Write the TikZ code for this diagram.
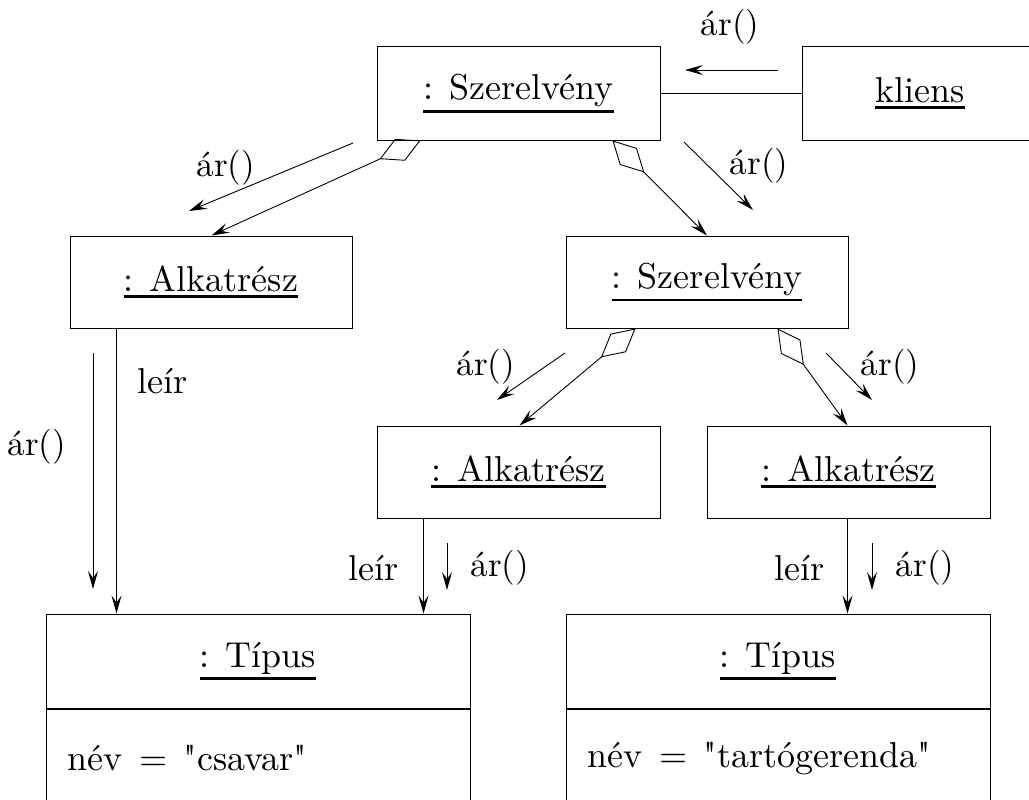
\documentclass[tikz,border=0pt]{standalone}
\usepackage{fontspec}
\setmainfont{lmroman10-regular.otf}[Ligatures=TeXOff]
\usepackage{graphicx}
\usetikzlibrary{arrows.meta,calc}
% box titles and labels are 10pt text, enlarged as a whole (rules included)
\newcommand\bigtxt[1]{\scalebox{3.6}{#1}}
\newcommand\labtxt[1]{\scalebox{3.5}{#1}}
% object names: underlined with a heavier rule
\newcommand\objname[1]{\vtop{\hbox{#1}\kern0.9pt\hrule height 0.75pt}}
\begin{document}
\begin{tikzpicture}[x=1pt,y=-1pt,
  every node/.style={font=\fontsize{10}{12}\selectfont},
  obj/.style={draw, rectangle, inner sep=0pt, line width=1pt},
  lbl/.style={inner sep=0pt},
  conn/.style={line width=0.9pt},
  tipshape/.tip={Stealth[length=18pt,width=10pt,inset=7pt]},
  msg/.style={conn, -tipshape},
  comp/.style={conn, {Diamond[open,length=45pt,width=24pt]}-tipshape},
  link/.style={conn, -tipshape}]
\useasboundingbox (0,0) rectangle (1029,800);
\clip (0,0) rectangle (1029,800);

% objects
\node[obj, minimum width=283pt, minimum height=93pt] (A) at (518.5,93.5) {\bigtxt{\objname{: Szerelvény}}};
\node[obj, minimum width=236pt, minimum height=93pt] (K) at (920,93.5) {\bigtxt{\objname{kliens}}};
\node[obj, minimum width=282pt, minimum height=92pt] (B) at (211,282) {\bigtxt{\objname{: Alkatrész}}};
\node[obj, minimum width=282pt, minimum height=92pt] (C) at (707,282) {\bigtxt{\objname{: Szerelvény}}};
\node[obj, minimum width=283pt, minimum height=92pt] (D) at (518.5,472) {\bigtxt{\objname{: Alkatrész}}};
\node[obj, minimum width=283pt, minimum height=92pt] (E) at (848.5,472) {\bigtxt{\objname{: Alkatrész}}};
\node[obj, minimum width=424pt, minimum height=94pt] (Ft) at (258,661) {\bigtxt{\objname{: Típus}}};
\node[obj, minimum width=424pt, minimum height=142pt, anchor=north] (Fb) at (Ft.south) {};
\node[lbl, anchor=west] (Fa) at ($(Fb.north west)+(22,50)$) {\bigtxt{név\hspace{1.8pt}${}={}$\hspace{1.8pt}"csavar"}};
\node[obj, minimum width=424pt, minimum height=94pt] (Gt) at (778,661) {\bigtxt{\objname{: Típus}}};
\node[obj, minimum width=424pt, minimum height=142pt, anchor=north] (Gb) at (Gt.south) {};
\node[lbl, anchor=west] (Ga) at ($(Gb.north west)+(22,50)$) {\bigtxt{név\hspace{1.8pt}${}={}$\hspace{1.8pt}"tartógerenda"}};

% links
\draw[conn] (A.east) -- (K.west);
\draw[comp] ([xshift=44pt]A.south west) -- ([xshift=142pt]B.north west);
\draw[comp] ([xshift=236pt]A.south west) -- (C.north);
\draw[comp] ([xshift=70pt]C.south west) -- ([xshift=143pt]D.north west);
\draw[comp] ([xshift=212pt]C.south west) -- ([xshift=141pt]E.north west);
\draw[link] ([xshift=47pt]B.south west) -- ([xshift=71pt]Ft.north west);
\draw[link] ([xshift=47pt]D.south west) -- ([xshift=378pt]Ft.north west);
\draw[link] ([xshift=141pt]E.south west) -- ([xshift=282pt]Gt.north west);

% link labels
\node[lbl] (l1) at (163,381) {\bigtxt{leír}};
\node[lbl] (l2) at (374,568) {\bigtxt{leír}};
\node[lbl] (l3) at (800,568) {\bigtxt{leír}};

% messages
\coordinate (m1s) at (778,70);  \coordinate (m1e) at (685,70);
\coordinate (m2s) at (353,143); \coordinate (m2e) at (189,211);
\coordinate (m3s) at (684,142); \coordinate (m3e) at (753,210);
\coordinate (m4s) at (565,353); \coordinate (m4e) at (497,400);
\coordinate (m5s) at (826,353); \coordinate (m5e) at (872,400);
\coordinate (m6s) at (93,353);  \coordinate (m6e) at (93,589);
\coordinate (m7s) at (447,543); \coordinate (m7e) at (447,590);
\coordinate (m8s) at (872,543); \coordinate (m8e) at (872,590);
\draw[msg] (m1s) -- (m1e);
\draw[msg] (m2s) -- (m2e);
\draw[msg] (m3s) -- (m3e);
\draw[msg] (m4s) -- (m4e);
\draw[msg] (m5s) -- (m5e);
\draw[msg] (m6s) -- (m6e);
\draw[msg] (m7s) -- (m7e);
\draw[msg] (m8s) -- (m8e);

\node[lbl] (a1) at (730,27) {\labtxt{ár()}};
\node[lbl] (a2) at (226,168) {\labtxt{ár()}};
\node[lbl] (a3) at (759,166) {\labtxt{ár()}};
\node[lbl] (a4) at (486,367) {\labtxt{ár()}};
\node[lbl] (a5) at (890,367) {\labtxt{ár()}};
\node[lbl] (a6) at (37,447) {\labtxt{ár()}};
\node[lbl] (a7) at (500,568) {\labtxt{ár()}};
\node[lbl] (a8) at (925,568) {\labtxt{ár()}};
\end{tikzpicture}
\end{document}
